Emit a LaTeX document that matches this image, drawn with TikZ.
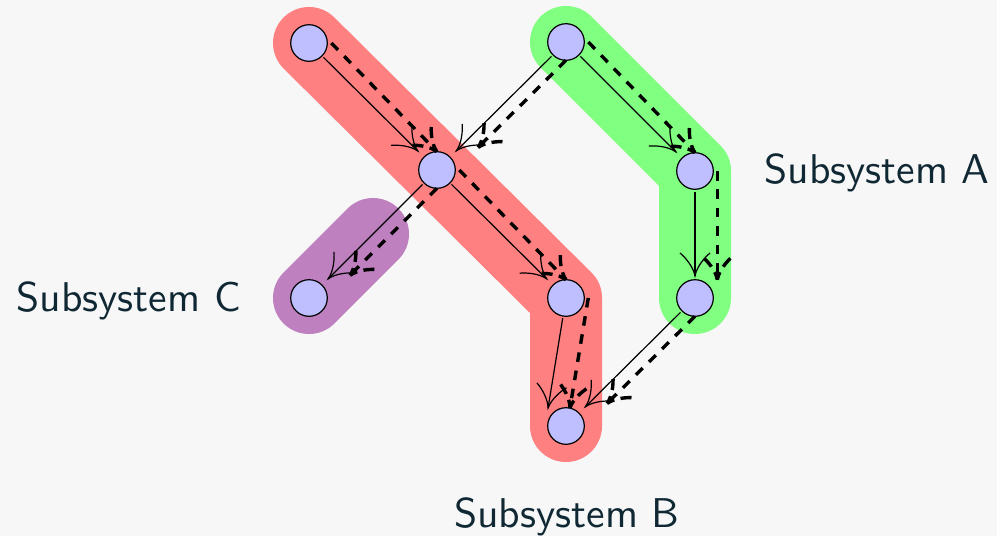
\documentclass[tikz,border=0pt]{standalone}
\usepackage{fontspec}
\newfontfamily\lmsten{lmsans10-regular.otf}
\usetikzlibrary{calc,backgrounds,decorations.markings}
\definecolor{bgcol}{HTML}{F7F7F7}
\definecolor{txtcol}{HTML}{0F2833}
\tikzset{
  st/.style={circle, draw=black, line width=0.6pt, fill=blue!25, minimum size=18.3pt, inner sep=0pt, outer sep=0pt},
  hl/.style={line width=36pt, line cap=round, line join=round},
  lbl/.style={font=\lmsten\fontsize{20.8}{25}\selectfont, text=txtcol, inner sep=0pt},
  sarr/.style={draw=black, line width=0.6pt,
    postaction={decorate, decoration={markings, mark=at position 1 with {
      \draw[line width=0.6pt, solid] (-23,15) .. controls (-18.5,9.5) and (-9,1.6) .. (0,0)
         .. controls (-9,-1.6) and (-18.5,-9.5) .. (-23,-15);}}}},
  darr/.style={draw=black, line width=1.7pt, dash pattern=on 4.8pt off 4.4pt,
    postaction={decorate, decoration={markings, mark=at position 1 with {
      \draw[line width=1.7pt, dash pattern=on 4pt off 3.2pt on 5.5pt off 10pt]
         (0,0) .. controls (-9,1.6) and (-18.5,9.5) .. (-23,15)
         (0,0) .. controls (-9,-1.6) and (-18.5,-9.5) .. (-23,-15);}}}}
}
\begin{document}
\begin{tikzpicture}[x=0.5pt,y=-0.5pt]
\useasboundingbox (0,0) rectangle (997,536);
% nodes
\node[st] (n1) at (309,43) {};
\node[st] (n2) at (437,170) {};
\node[st] (n3) at (566,42) {};
\node[st] (n4) at (695,171) {};
\node[st] (n5) at (309,298) {};
\node[st] (n6) at (566,298) {};
\node[st] (n7) at (695,298) {};
\node[st] (n8) at (566,426) {};
% highlights
\begin{scope}[on background layer]
  \fill[bgcol] (0,0) rectangle (997,536);
  \draw[hl, red!50] (n1.center) -- (n2.center) -- (n6.center) -- (n8.center);
  \draw[hl, green!50] (n3.center) -- (n4.center) -- (n7.center);
  \draw[hl, violet!50] (n5.center) -- ($(n5)!0.5!(n2)$);
\end{scope}
% labels
\node[lbl, anchor=base west] (la) at (764,183) {Subsystem A};
\node[lbl, anchor=base east] (lc) at (241,311) {Subsystem C};
\node[lbl, anchor=base] (lb) at (567,527) {Subsystem B};
% helper coordinates
\coordinate (e7) at ($(n8.north west)+(-5,-5)$);
\coordinate (d8s) at ([xshift=2pt]n4.east);
% solid arrows
\path[sarr] ($(n1)!10.25pt!(n2)$) -- ($(n2)!13.5pt!(n1)$);
\path[sarr] ($(n3)!10.25pt!(n4)$) -- ($(n4)!13.5pt!(n3)$);
\path[sarr] ($(n3)!10.25pt!(n2)$) -- ($(n2)!13.5pt!(n3)$);
\path[sarr] ($(n2)!10.25pt!(n5)$) -- ($(n5)!13.5pt!(n2)$);
\path[sarr] ($(n2)!10.25pt!(n6)$) -- ($(n6)!13.5pt!(n2)$);
\path[sarr] ($(n4)!10.25pt!(n7)$) -- ($(n7)!11pt!(n4)$);
\path[sarr] ($(n6)!10.25pt!(e7)$) -- (e7);
\path[sarr] ($(n7)!10.25pt!(n8)$) -- ($(n8)!13.5pt!(n7)$);
% dashed arrows
\path[darr] ([xshift=2pt]n1.east) -- (n2.north);
\path[darr] ([xshift=2pt]n3.east) -- (n4.north);
\path[darr] (n3.south) -- ($(n2.east)!16pt!(n3.south)$);
\path[darr] (n2.south) -- ($(n5.east)!16pt!(n2.south)$);
\path[darr] ([xshift=2pt]n2.east) -- (n6.north);
\path[darr] ([xshift=2pt]n6.east) -- ([xshift=2pt]n8.north);
\path[darr] (n7.south) -- ($(n8.east)!16pt!(n7.south)$);
\path[darr] (d8s) -- (d8s |- n7.north);
\end{tikzpicture}
\end{document}
